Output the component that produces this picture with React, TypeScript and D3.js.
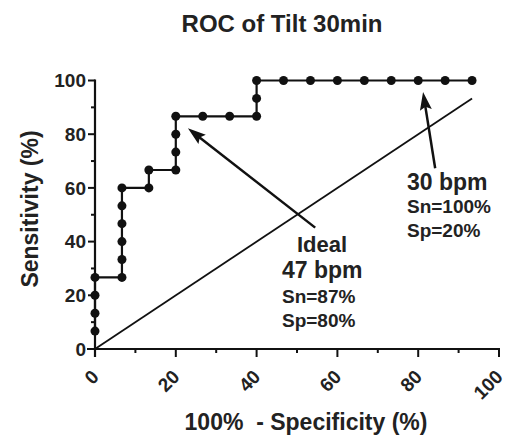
import React from "react";
import * as d3 from "d3";

// ROC data (100% - Specificity, Sensitivity)
const fpr = [0, 0, 0, 0, 6.67, 6.67, 6.67, 6.67, 6.67, 6.67, 13.33, 13.33, 20, 20, 20, 20, 26.67, 33.33, 40, 40, 40, 46.67, 53.33, 60, 66.67, 73.33, 80, 86.67, 93.33];
const tpr = [6.67, 13.33, 20, 26.67, 26.67, 33.33, 40, 46.67, 53.33, 60, 60, 66.67, 66.67, 73.33, 80, 86.67, 86.67, 86.67, 86.67, 93.33, 100, 100, 100, 100, 100, 100, 100, 100, 100];
const refLineX = [0, 93.33];
const refLineY = [0, 93.33];
const majorTicks = [0, 20, 40, 60, 80, 100];
const minorTicks = [10, 30, 50, 70, 90];

const title = "ROC of Tilt 30min";
const xTitle = "100%  - Specificity (%)";
const yTitle = "Sensitivity (%)";
const idealLines = ["47 bpm", "Sn=87%", "Sp=80%"];
const bpm30Lines = ["30 bpm", "Sn=100%", "Sp=20%"];

const W = 510, H = 436;
const FONT = "'Liberation Sans', Arial, Helvetica, sans-serif";

export default function App() {
  const x = d3.scaleLinear().domain([0, 100]).range([95, 499]);
  const y = d3.scaleLinear().domain([0, 100]).range([349, 80.5]);
  const pts = fpr.map((f, i) => [f, tpr[i]] as [number, number]);
  const line = d3.line<[number, number]>().x(d => x(d[0])).y(d => y(d[1]));

  const arrow = (x1: number, y1: number, x2: number, y2: number, key: string) => {
    const px1 = x(x1), py1 = y(y1), px2 = x(x2), py2 = y(y2);
    const dx = px2 - px1, dy = py2 - py1;
    const len = Math.hypot(dx, dy);
    const ux = dx / len, uy = dy / len;
    const hl = 18, hw = 6;
    const bx = px2 - ux * hl, by = py2 - uy * hl;
    const p = [
      [px2, py2],
      [bx - uy * hw, by + ux * hw],
      [bx + ux * 3, by + uy * 3],
      [bx + uy * hw, by - ux * hw],
    ];
    return (
      <g key={key}>
        <line x1={px1} y1={py1} x2={bx + ux * 4} y2={by + uy * 4} stroke="#111" strokeWidth={2.5} />
        <polygon points={p.map(q => q.join(",")).join(" ")} fill="#111" />
      </g>
    );
  };

  const x0 = x(0), y0 = y(0);
  return (
    <svg width={W} height={H} style={{ position: "absolute", left: 0, top: 0, background: "#fff" }} fontFamily={FONT}>
      <rect width={W} height={H} fill="#fff" />
      <text x={282} y={32} textAnchor="middle" fontSize={24} fontWeight="bold" fill="#222">{title}</text>

      {/* reference diagonal */}
      <line x1={x(refLineX[0])} y1={y(refLineY[0])} x2={x(refLineX[1])} y2={y(refLineY[1])} stroke="#111" strokeWidth={1.8} />

      {/* axes */}
      <line x1={x0} y1={y(100) - 1} x2={x0} y2={y0 + 8} stroke="#111" strokeWidth={2.2} />
      <line x1={x0 - 8} y1={y0} x2={x(100) + 1} y2={y0} stroke="#111" strokeWidth={2.2} />
      {majorTicks.map(t => (
        <g key={"y" + t}>
          <line x1={x0 - 7} x2={x0} y1={y(t)} y2={y(t)} stroke="#111" strokeWidth={2} />
          <text x={x0 - 9} y={y(t)} dy="0.36em" textAnchor="end" fontSize={19} fontWeight="bold" fill="#222">{t}</text>
        </g>
      ))}
      {minorTicks.map(t => (
        <line key={"ym" + t} x1={x0 - 4} x2={x0} y1={y(t)} y2={y(t)} stroke="#111" strokeWidth={2} />
      ))}
      {majorTicks.map(t => (
        <g key={"x" + t}>
          <line x1={x(t)} x2={x(t)} y1={y0} y2={y0 + 8} stroke="#111" strokeWidth={2} />
          <text transform={`translate(${x(t) + 5},${y0 + 29}) rotate(-45)`} textAnchor="end" fontSize={19} fontWeight="bold" fill="#222">{t}</text>
        </g>
      ))}
      {minorTicks.map(t => (
        <line key={"xm" + t} x1={x(t)} x2={x(t)} y1={y0} y2={y0 + 4} stroke="#111" strokeWidth={2} />
      ))}

      <text transform={`translate(38,209) rotate(-90)`} textAnchor="middle" fontSize={23} fontWeight="bold" fill="#222">{yTitle}</text>
      <text x={306} y={430} textAnchor="middle" fontSize={23} fontWeight="bold" fill="#222" style={{ whiteSpace: "pre" }}>{xTitle}</text>

      {/* ROC curve */}
      <path d={line(pts) || ""} fill="none" stroke="#111" strokeWidth={2.2} />
      {pts.map((d, i) => (
        <circle key={i} cx={x(d[0])} cy={y(d[1])} r={4.5} fill="#111" />
      ))}

      {/* annotations */}
      {arrow(54.5, 45.2, 23.0, 82.2, "a1")}
      {arrow(84.2, 67.3, 81.2, 95.7, "a2")}

      <text x={322} y={252} textAnchor="middle" fontSize={22} fontWeight="bold" fill="#222">Ideal</text>
      <text x={282} y={278} fontSize={23} fontWeight="bold" fill="#222">{idealLines[0]}</text>
      <text x={282} y={303} fontSize={19} fontWeight="bold" fill="#222">{idealLines[1]}</text>
      <text x={282} y={327} fontSize={19} fontWeight="bold" fill="#222">{idealLines[2]}</text>

      <text x={407} y={190} fontSize={23} fontWeight="bold" fill="#222">{bpm30Lines[0]}</text>
      <text x={407} y={213} fontSize={19} fontWeight="bold" fill="#222">{bpm30Lines[1]}</text>
      <text x={407} y={237} fontSize={19} fontWeight="bold" fill="#222">{bpm30Lines[2]}</text>
    </svg>
  );
}
